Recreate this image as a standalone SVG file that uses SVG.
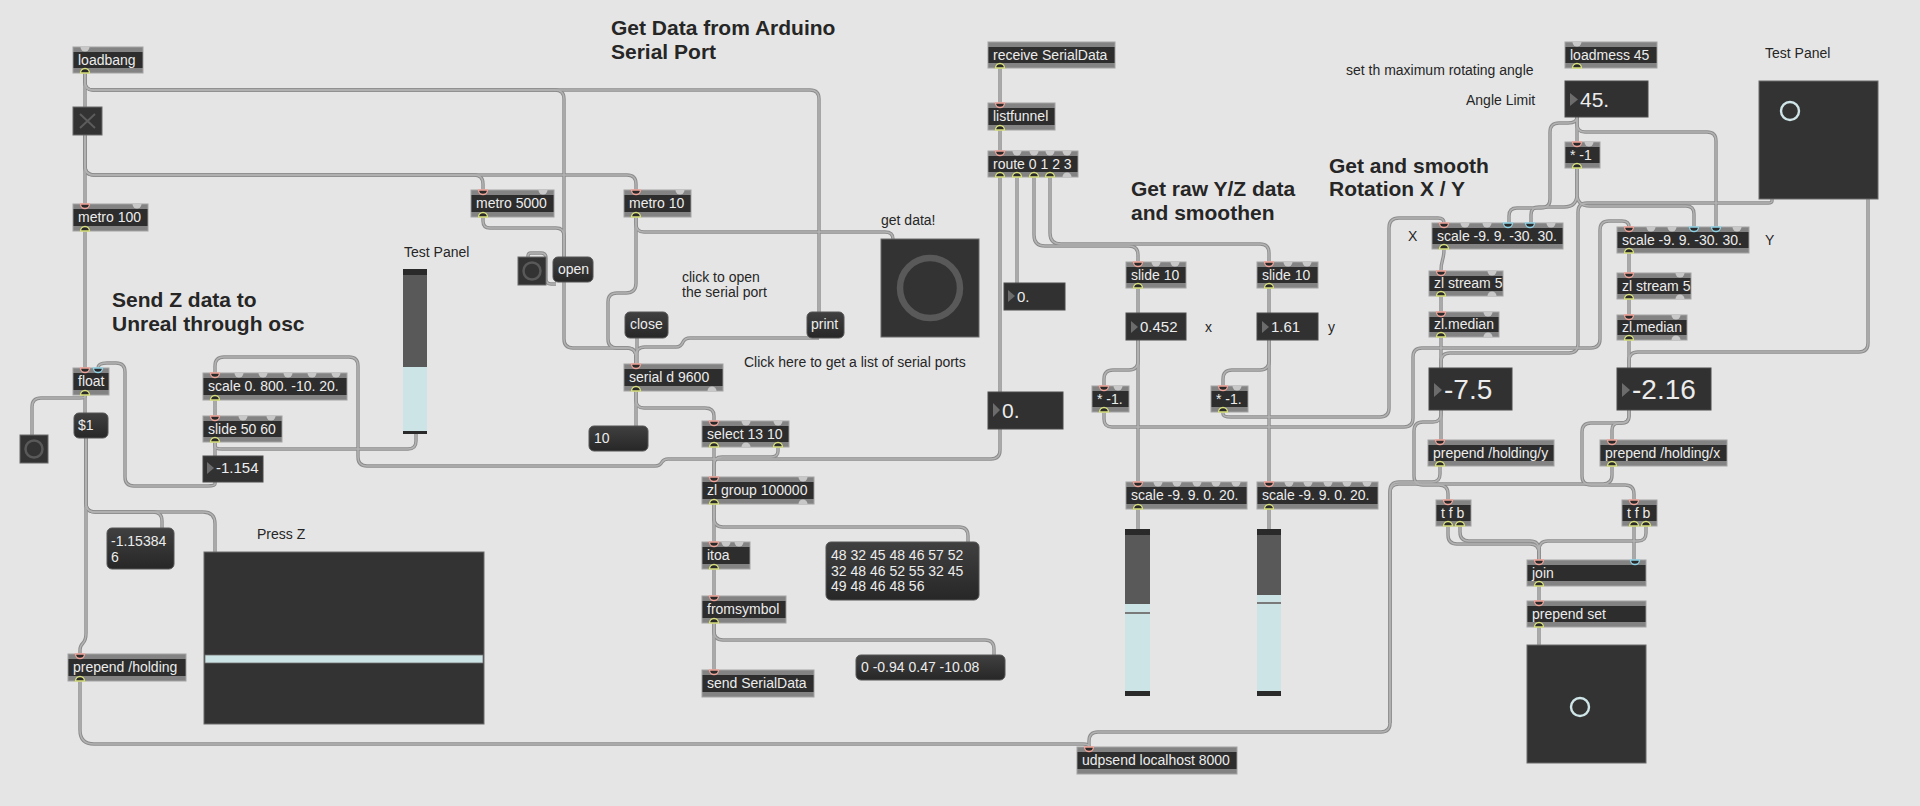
<svg xmlns="http://www.w3.org/2000/svg" xmlns:xlink="http://www.w3.org/1999/xlink" width="1920" height="806" viewBox="0 0 1920 806">
<style>
text{font-family:"Liberation Sans",Arial,Helvetica,sans-serif}
.t{font-size:14px;fill:#ececec}
.c{font-size:14px;fill:#262626}
.h{font-size:21px;font-weight:bold;fill:#262626}
.n15{font-size:15px}
.n21{font-size:21px}
.n28{font-size:28px}
.ob{fill:#838383;stroke:#a3a3a3;stroke-width:1}
.oi{fill:#2d2d2d}
.msg{fill:url(#mg);stroke:#555;stroke-width:1}
.num{fill:#313131;stroke:#4a4a4a;stroke-width:1}
.tri{fill:#6c6c6c}
.ui{fill:#333;stroke:#6a6a6a;stroke-width:1}
.ring{fill:none;stroke:#595959}
.pc{fill:none;stroke:#cfe5e8;stroke-width:2.4}
</style>
<defs>
<linearGradient id="mg" x1="0" y1="0" x2="0" y2="1"><stop offset="0" stop-color="#404040"/><stop offset="1" stop-color="#272727"/></linearGradient>
<path id="ii" d="M-4.5,0 A4.5,4.5 0 0 0 4.5,0 Z" fill="#2a2a2a" stroke="#f0a398" stroke-width="1.3"/>
<path id="ic" d="M-4.5,0 A4.5,4.5 0 0 0 4.5,0 Z" fill="#2a2a2a" stroke="#8fd3e6" stroke-width="1.3"/>
<path id="iu" d="M-4.5,0 A4.5,4.5 0 0 0 4.5,0 Z" fill="#c8c8c8"/>
<path id="oo" d="M-4.5,0 A4.5,4.5 0 0 1 4.5,0 Z" fill="#2a2a2a" stroke="#d8e07a" stroke-width="1.3"/>
<path id="ou" d="M-4.5,0 A4.5,4.5 0 0 1 4.5,0 Z" fill="#c8c8c8"/>
</defs>
<rect width="1920" height="806" fill="#e5e5e5"/>

<g id="connectors" fill="none">
<g stroke="#8c8c8c" stroke-width="3.4">
<g id="cordset">
<path d="M85 73 V107"/>
<path d="M85 135 V204"/>
<path d="M85 73 V82 Q85 90 93 90 H555 Q564 90 564 99 V257"/>
<path d="M85 73 V82 Q85 90 93 90 H810 Q819 90 819 99 V312"/>
<path d="M85 135 V166 Q85 175 94 175 H474 Q483 175 483 184 V190"/>
<path d="M85 135 V166 Q85 175 94 175 H627 Q636 175 636 184 V190"/>
<path d="M483 217 V221 Q483 228 490 228 H556 Q564 228 564 236 V257"/>
<path d="M636 217 V224 Q636 232 644 232 H885 Q893 232 893 239"/>
<path d="M636 217 V283 Q636 293 626 293 H617 Q608 293 608 302 V339 Q608 348 617 348 H627 Q636 348 636 357 V364"/>
<path d="M564 282 V339 Q564 348 573 348 H627 Q636 348 636 357 V364"/>
<path d="M637 338 V364"/>
<path d="M819 338 H690 Q685 338 683 342 Q681 347 676 347 H645 Q636 347 636 356 V364"/>
<path d="M636 391 V426"/>
<path d="M636 391 V400 Q636 408 644 408 H705 Q714 408 714 416 V421"/>
<path d="M714 447 V477"/>
<path d="M778 447 V451 Q778 457 771 457 H722 Q714 457 714 465 V477"/>
<path d="M714 504 V542"/>
<path d="M714 504 V518 Q714 527 723 527 H959 Q968 527 968 536 V542"/>
<path d="M714 569 V596"/>
<path d="M714 623 V670"/>
<path d="M714 623 V631 Q714 640 723 640 H985 Q994 640 994 649 V655"/>
<path d="M1000 68 V103"/>
<path d="M1000 130 V151"/>
<path d="M1000 177 V450 Q1000 459 991 459 H668 Q664 459 662 462 Q660 466 655 466 H367 Q358 466 358 457 V366 Q358 357 349 357 H224 Q215 357 215 366 V373"/>
<path d="M1017 177 V283"/>
<path d="M1034 177 V235 Q1034 246 1045 246 H1129 Q1138 246 1138 255 V262"/>
<path d="M1050 177 V233 Q1050 244 1061 244 H1260 Q1269 244 1269 253 V262"/>
<path d="M1138 288 V313"/>
<path d="M1138 340 V482"/>
<path d="M1138 340 V361 Q1138 370 1129 370 H1113 Q1104 370 1104 379 V386"/>
<path d="M1269 288 V313"/>
<path d="M1269 340 V482"/>
<path d="M1269 340 V361 Q1269 370 1260 370 H1232 Q1223 370 1223 379 V386"/>
<path d="M1138 509 V529"/>
<path d="M1269 509 V529"/>
<path d="M1223 412 V414 Q1223 417 1231 417 H1380 Q1389 417 1389 408 V228 Q1389 218 1399 218 H1438 Q1444 218 1444 223"/>
<path d="M1104 412 V419 Q1104 427 1112 427 H1404 Q1413 427 1413 418 V357 Q1413 348 1422 348 H1591 Q1600 348 1600 339 V230 Q1600 221 1609 221 H1622 Q1629 221 1629 227"/>
<path d="M1772 199 V201 Q1772 203 1768 203 H1587 Q1578 203 1578 212 V344 Q1578 353 1569 353 H1450 Q1441 353 1441 362 V368"/>
<path d="M1868 199 V343 Q1868 352 1859 352 H1638 Q1629 352 1629 361 V368"/>
<path d="M1577 117 V142"/>
<path d="M1577 117 Q1577 123 1568 123 H1559 Q1550 123 1550 132 V199 Q1550 208 1541 208 H1517 Q1509 208 1509 216 V223"/>
<path d="M1577 168 V194 Q1577 207 1564 207 H1539 Q1531 207 1531 215 V223"/>
<path d="M1577 168 V194 Q1577 206 1590 206 H1686 Q1694 206 1694 214 V227"/>
<path d="M1577 117 V124 Q1577 132 1585 132 H1707 Q1716 132 1716 141 V227"/>
<path d="M1444 249 C1444 261 1441 259 1441 271"/>
<path d="M1441 296 V312"/>
<path d="M1441 337 V368"/>
<path d="M1629 253 V273"/>
<path d="M1629 299 V315"/>
<path d="M1629 340 V368"/>
<path d="M1441 410 V440"/>
<path d="M1629 410 V416 Q1629 423 1622 423 H1619 Q1612 423 1612 430 V440"/>
<path d="M1629 410 V416 Q1629 423 1621 423 H1591 Q1582 423 1582 432 V476 Q1582 485 1591 485 H1625 Q1634 485 1634 494 V500"/>
<path d="M1441 410 V414 Q1441 422 1433 422 H1423 Q1414 422 1414 431 V476 Q1414 485 1423 485 H1439 Q1448 485 1448 494 V500"/>
<path d="M1440 466 V474 Q1440 482 1432 482 H1399 Q1390 482 1390 491 V723 Q1390 732 1381 732 H1098 Q1089 732 1089 741 V747"/>
<path d="M1612 466 V475 Q1612 484 1603 484 H1399 Q1390 484 1390 493 V723"/>
<path d="M80 681 V730 Q80 744 94 744 H1083 Q1089 744 1089 747"/>
<path d="M1448 526 V535 Q1448 544 1457 544 H1530 Q1539 544 1539 553 V560"/>
<path d="M1460 526 V532 Q1460 541 1469 541 H1530 Q1539 541 1539 550 V560"/>
<path d="M1634 526 V560"/>
<path d="M1646 526 V533 Q1646 541 1638 541 H1548 Q1539 541 1539 550 V560"/>
<path d="M1539 586 V601"/>
<path d="M1539 627 V645"/>
<path d="M85 231 V368"/>
<path d="M85 395 V413"/>
<path d="M85 395 V396 Q85 398 80 398 H41 Q32 398 32 407 V435"/>
<path d="M86 438 V633 Q86 640 83 643 Q80 646 80 650 V654"/>
<path d="M86 438 V503 Q86 512 95 512 H153 Q162 512 162 521 V528"/>
<path d="M86 438 V503 Q86 512 95 512 H203 Q215 512 215 524 V552"/>
<path d="M215 400 V416"/>
<path d="M215 442 V456"/>
<path d="M215 442 V446 Q215 449 222 449 H408 Q416 449 416 441 V434"/>
<path d="M215 482 V484 Q215 486 208 486 H134 Q125 486 125 477 V372 Q125 363 116 363 H107 Q98 363 98 368"/>
<path d="M528 257 V256 Q528 253 531 253 H541 Q546 253 546 258 V279 Q546 284 551 284 H556"/>
</g>
</g>
<use href="#cordset" stroke="#b3b3b3" stroke-width="1.5"/>
</g>

<g id="headings">
<text class="h" x="611" y="35">Get Data from Arduino</text>
<text class="h" x="611" y="59">Serial Port</text>
<text class="h" x="112" y="307">Send Z data to</text>
<text class="h" x="112" y="331">Unreal through osc</text>
<text class="h" x="1131" y="196">Get raw Y/Z data</text>
<text class="h" x="1131" y="220">and smoothen</text>
<text class="h" x="1329" y="173">Get and smooth</text>
<text class="h" x="1329" y="196">Rotation X / Y</text>
</g>

<g id="comments">
<text class="c" x="404" y="257">Test Panel</text>
<text class="c" x="1765" y="58">Test Panel</text>
<text class="c" x="881" y="225">get data!</text>
<text class="c" x="682" y="282">click to open</text>
<text class="c" x="682" y="297">the serial port</text>
<text class="c" x="744" y="367">Click here to get a list of serial ports</text>
<text class="c" x="257" y="539">Press Z</text>
<text class="c" x="1346" y="75">set th maximum rotating angle</text>
<text class="c" x="1466" y="105">Angle Limit</text>
<text class="c" x="1408" y="241">X</text>
<text class="c" x="1765" y="245">Y</text>
<text class="c" x="1205" y="332">x</text>
<text class="c" x="1328" y="332">y</text>
</g>

<!-- object boxes -->
<g id="n-loadbang"><rect class="ob" x="73" y="47" width="70" height="26"/><rect class="oi" x="73.5" y="52" width="69" height="16"/><text class="t" x="78" y="65">loadbang</text><use href="#iu" x="85" y="47"/><use href="#oo" x="85" y="73"/></g>
<g id="n-metro100"><rect class="ob" x="73" y="204" width="75" height="27"/><rect class="oi" x="73.5" y="209" width="74" height="17"/><text class="t" x="78" y="222">metro 100</text><use href="#ii" x="85" y="204"/><use href="#iu" x="137" y="204"/><use href="#oo" x="85" y="231"/></g>
<g id="n-metro5000"><rect class="ob" x="471" y="190" width="83" height="27"/><rect class="oi" x="471.5" y="195" width="82" height="17"/><text class="t" x="476" y="208">metro 5000</text><use href="#ii" x="483" y="190"/><use href="#iu" x="543" y="190"/><use href="#oo" x="483" y="217"/></g>
<g id="n-metro10"><rect class="ob" x="624" y="190" width="67" height="27"/><rect class="oi" x="624.5" y="195" width="66" height="17"/><text class="t" x="629" y="208">metro 10</text><use href="#ii" x="636" y="190"/><use href="#iu" x="680" y="190"/><use href="#oo" x="636" y="217"/></g>
<g id="n-serial"><rect class="ob" x="624" y="364" width="99" height="27"/><rect class="oi" x="624.5" y="369" width="98" height="17"/><text class="t" x="629" y="382">serial d 9600</text><use href="#ii" x="636" y="364"/><use href="#oo" x="636" y="391"/><use href="#ou" x="712" y="391"/></g>
<g id="n-select"><rect class="ob" x="702" y="421" width="87" height="26"/><rect class="oi" x="702.5" y="426" width="86" height="16"/><text class="t" x="707" y="439">select 13 10</text><use href="#ii" x="714" y="421"/><use href="#iu" x="746" y="421"/><use href="#iu" x="778" y="421"/><use href="#oo" x="714" y="447"/><use href="#ou" x="746" y="447"/><use href="#oo" x="778" y="447"/></g>
<g id="n-zlgroup"><rect class="ob" x="702" y="477" width="112" height="27"/><rect class="oi" x="702.5" y="482" width="111" height="17"/><text class="t" x="707" y="495">zl group 100000</text><use href="#ii" x="714" y="477"/><use href="#iu" x="803" y="477"/><use href="#oo" x="714" y="504"/><use href="#ou" x="803" y="504"/></g>
<g id="n-itoa"><rect class="ob" x="702" y="542" width="48" height="27"/><rect class="oi" x="702.5" y="547" width="47" height="17"/><text class="t" x="707" y="560">itoa</text><use href="#ii" x="714" y="542"/><use href="#iu" x="726" y="542"/><use href="#iu" x="739" y="542"/><use href="#oo" x="714" y="569"/></g>
<g id="n-fromsymbol"><rect class="ob" x="702" y="596" width="84" height="27"/><rect class="oi" x="702.5" y="601" width="83" height="17"/><text class="t" x="707" y="614">fromsymbol</text><use href="#ii" x="714" y="596"/><use href="#oo" x="714" y="623"/></g>
<g id="n-sendserial"><rect class="ob" x="702" y="670" width="112" height="27"/><rect class="oi" x="702.5" y="675" width="111" height="17"/><text class="t" x="707" y="688">send SerialData</text><use href="#ii" x="714" y="670"/></g>
<g id="n-receive"><rect class="ob" x="988" y="42" width="127" height="26"/><rect class="oi" x="988.5" y="47" width="126" height="16"/><text class="t" x="993" y="60">receive SerialData</text><use href="#oo" x="1000" y="68"/></g>
<g id="n-listfunnel"><rect class="ob" x="988" y="103" width="67" height="27"/><rect class="oi" x="988.5" y="108" width="66" height="17"/><text class="t" x="993" y="121">listfunnel</text><use href="#ii" x="1000" y="103"/><use href="#oo" x="1000" y="130"/></g>
<g id="n-route"><rect class="ob" x="988" y="151" width="90" height="26"/><rect class="oi" x="988.5" y="156" width="89" height="16"/><text class="t" x="993" y="169">route 0 1 2 3</text><use href="#ii" x="1000" y="151"/><use href="#iu" x="1017" y="151"/><use href="#iu" x="1034" y="151"/><use href="#iu" x="1050" y="151"/><use href="#iu" x="1067" y="151"/><use href="#oo" x="1000" y="177"/><use href="#oo" x="1017" y="177"/><use href="#oo" x="1034" y="177"/><use href="#oo" x="1050" y="177"/><use href="#ou" x="1067" y="177"/></g>
<g id="n-slidex"><rect class="ob" x="1126" y="262" width="60" height="26"/><rect class="oi" x="1126.5" y="267" width="59" height="16"/><text class="t" x="1131" y="280">slide 10</text><use href="#ii" x="1138" y="262"/><use href="#iu" x="1156" y="262"/><use href="#iu" x="1175" y="262"/><use href="#oo" x="1138" y="288"/></g>
<g id="n-slidey"><rect class="ob" x="1257" y="262" width="61" height="26"/><rect class="oi" x="1257.5" y="267" width="60" height="16"/><text class="t" x="1262" y="280">slide 10</text><use href="#ii" x="1269" y="262"/><use href="#iu" x="1288" y="262"/><use href="#iu" x="1307" y="262"/><use href="#oo" x="1269" y="288"/></g>
<g id="n-mulx"><rect class="ob" x="1092" y="386" width="37" height="26"/><rect class="oi" x="1092.5" y="391" width="36" height="16"/><text class="t" x="1097" y="404">* -1.</text><use href="#ii" x="1104" y="386"/><use href="#iu" x="1118" y="386"/><use href="#oo" x="1104" y="412"/></g>
<g id="n-muly"><rect class="ob" x="1211" y="386" width="37" height="26"/><rect class="oi" x="1211.5" y="391" width="36" height="16"/><text class="t" x="1216" y="404">* -1.</text><use href="#ii" x="1223" y="386"/><use href="#iu" x="1237" y="386"/><use href="#oo" x="1223" y="412"/></g>
<g id="n-scalex20"><rect class="ob" x="1126" y="482" width="121" height="27"/><rect class="oi" x="1126.5" y="487" width="120" height="17"/><text class="t" x="1131" y="500">scale -9. 9. 0. 20.</text><use href="#ii" x="1138" y="482"/><use href="#iu" x="1158" y="482"/><use href="#iu" x="1177" y="482"/><use href="#iu" x="1197" y="482"/><use href="#iu" x="1216" y="482"/><use href="#iu" x="1236" y="482"/><use href="#oo" x="1138" y="509"/></g>
<g id="n-scaley20"><rect class="ob" x="1257" y="482" width="121" height="27"/><rect class="oi" x="1257.5" y="487" width="120" height="17"/><text class="t" x="1262" y="500">scale -9. 9. 0. 20.</text><use href="#ii" x="1269" y="482"/><use href="#iu" x="1289" y="482"/><use href="#iu" x="1308" y="482"/><use href="#iu" x="1328" y="482"/><use href="#iu" x="1347" y="482"/><use href="#iu" x="1367" y="482"/><use href="#oo" x="1269" y="509"/></g>
<g id="n-udpsend"><rect class="ob" x="1077" y="747" width="160" height="27"/><rect class="oi" x="1077.5" y="752" width="159" height="17"/><text class="t" x="1082" y="765">udpsend localhost 8000</text><use href="#ii" x="1089" y="747"/></g>
<g id="n-loadmess"><rect class="ob" x="1565" y="42" width="92" height="26"/><rect class="oi" x="1565.5" y="47" width="91" height="16"/><text class="t" x="1570" y="60">loadmess 45</text><use href="#iu" x="1577" y="42"/><use href="#oo" x="1577" y="68"/></g>
<g id="n-neg1"><rect class="ob" x="1565" y="142" width="35" height="26"/><rect class="oi" x="1565.5" y="147" width="34" height="16"/><text class="t" x="1570" y="160">* -1</text><use href="#ii" x="1577" y="142"/><use href="#iu" x="1589" y="142"/><use href="#oo" x="1577" y="168"/></g>
<g id="n-scaleX"><rect class="ob" x="1432" y="223" width="131" height="26"/><rect class="oi" x="1432.5" y="228" width="130" height="16"/><text class="t" x="1437" y="241">scale -9. 9. -30. 30.</text><use href="#ii" x="1444" y="223"/><use href="#iu" x="1465" y="223"/><use href="#iu" x="1487" y="223"/><use href="#ic" x="1508" y="223"/><use href="#ic" x="1530" y="223"/><use href="#iu" x="1551" y="223"/><use href="#oo" x="1444" y="249"/></g>
<g id="n-scaleY"><rect class="ob" x="1617" y="227" width="132" height="26"/><rect class="oi" x="1617.5" y="232" width="131" height="16"/><text class="t" x="1622" y="245">scale -9. 9. -30. 30.</text><use href="#ii" x="1629" y="227"/><use href="#iu" x="1651" y="227"/><use href="#iu" x="1672" y="227"/><use href="#ic" x="1694" y="227"/><use href="#ic" x="1716" y="227"/><use href="#iu" x="1737" y="227"/><use href="#oo" x="1629" y="253"/></g>
<g id="n-zlstreamL"><rect class="ob" x="1429" y="271" width="74" height="25"/><rect class="oi" x="1429.5" y="276" width="73" height="15"/><text class="t" x="1434" y="288">zl stream 5</text><use href="#ii" x="1441" y="271"/><use href="#iu" x="1492" y="271"/><use href="#oo" x="1441" y="296"/><use href="#ou" x="1492" y="296"/></g>
<g id="n-zlmedianL"><rect class="ob" x="1429" y="312" width="70" height="25"/><rect class="oi" x="1429.5" y="317" width="69" height="15"/><text class="t" x="1434" y="329">zl.median</text><use href="#ii" x="1441" y="312"/><use href="#iu" x="1488" y="312"/><use href="#oo" x="1441" y="337"/><use href="#ou" x="1488" y="337"/></g>
<g id="n-zlstreamR"><rect class="ob" x="1617" y="273" width="74" height="26"/><rect class="oi" x="1617.5" y="278" width="73" height="16"/><text class="t" x="1622" y="291">zl stream 5</text><use href="#ii" x="1629" y="273"/><use href="#iu" x="1680" y="273"/><use href="#oo" x="1629" y="299"/><use href="#ou" x="1680" y="299"/></g>
<g id="n-zlmedianR"><rect class="ob" x="1617" y="315" width="70" height="25"/><rect class="oi" x="1617.5" y="320" width="69" height="15"/><text class="t" x="1622" y="332">zl.median</text><use href="#ii" x="1629" y="315"/><use href="#iu" x="1676" y="315"/><use href="#oo" x="1629" y="340"/><use href="#ou" x="1676" y="340"/></g>
<g id="n-prependy"><rect class="ob" x="1428" y="440" width="126" height="26"/><rect class="oi" x="1428.5" y="445" width="125" height="16"/><text class="t" x="1433" y="458">prepend /holding/y</text><use href="#ii" x="1440" y="440"/><use href="#oo" x="1440" y="466"/></g>
<g id="n-prependx"><rect class="ob" x="1600" y="440" width="127" height="26"/><rect class="oi" x="1600.5" y="445" width="126" height="16"/><text class="t" x="1605" y="458">prepend /holding/x</text><use href="#ii" x="1612" y="440"/><use href="#oo" x="1612" y="466"/></g>
<g id="n-tfbL"><rect class="ob" x="1436" y="500" width="35" height="26"/><rect class="oi" x="1436.5" y="505" width="34" height="16"/><text class="t" x="1441" y="518">t f b</text><use href="#ii" x="1448" y="500"/><use href="#oo" x="1448" y="526"/><use href="#oo" x="1460" y="526"/></g>
<g id="n-tfbR"><rect class="ob" x="1622" y="500" width="35" height="26"/><rect class="oi" x="1622.5" y="505" width="34" height="16"/><text class="t" x="1627" y="518">t f b</text><use href="#ii" x="1634" y="500"/><use href="#oo" x="1634" y="526"/><use href="#oo" x="1646" y="526"/></g>
<g id="n-join"><rect class="ob" x="1527" y="560" width="119" height="26"/><rect class="oi" x="1527.5" y="565" width="118" height="16"/><text class="t" x="1532" y="578">join</text><use href="#ii" x="1539" y="560"/><use href="#ic" x="1635" y="560"/><use href="#oo" x="1539" y="586"/></g>
<g id="n-prependset"><rect class="ob" x="1527" y="601" width="119" height="26"/><rect class="oi" x="1527.5" y="606" width="118" height="16"/><text class="t" x="1532" y="619">prepend set</text><use href="#ii" x="1539" y="601"/><use href="#oo" x="1539" y="627"/></g>
<g id="n-float"><rect class="ob" x="73" y="368" width="36" height="27"/><rect class="oi" x="73.5" y="373" width="35" height="17"/><text class="t" x="78" y="386">float</text><use href="#ii" x="85" y="368"/><use href="#ic" x="98" y="368"/><use href="#oo" x="85" y="395"/></g>
<g id="n-scale800"><rect class="ob" x="203" y="373" width="144" height="27"/><rect class="oi" x="203.5" y="378" width="143" height="17"/><text class="t" x="208" y="391">scale 0. 800. -10. 20.</text><use href="#ii" x="215" y="373"/><use href="#iu" x="239" y="373"/><use href="#iu" x="263" y="373"/><use href="#iu" x="288" y="373"/><use href="#iu" x="312" y="373"/><use href="#iu" x="336" y="373"/><use href="#oo" x="215" y="400"/></g>
<g id="n-slide5060"><rect class="ob" x="203" y="416" width="79" height="26"/><rect class="oi" x="203.5" y="421" width="78" height="16"/><text class="t" x="208" y="434">slide 50 60</text><use href="#ii" x="215" y="416"/><use href="#iu" x="243" y="416"/><use href="#iu" x="271" y="416"/><use href="#oo" x="215" y="442"/></g>
<g id="n-prependholding"><rect class="ob" x="68" y="654" width="118" height="27"/><rect class="oi" x="68.5" y="659" width="117" height="17"/><text class="t" x="73" y="672">prepend /holding</text><use href="#ii" x="80" y="654"/><use href="#oo" x="80" y="681"/></g>

<!-- number boxes -->
<g id="n-num45"><rect class="num" x="1565" y="81" width="83" height="36"/><path class="tri" d="M1570 93 L1578 99.5 L1570 106 Z"/><text class="t n21" x="1580" y="107">45.</text></g>
<g id="n-num75"><rect class="num" x="1429" y="368" width="83" height="42"/><path class="tri" d="M1434 383 L1442 390 L1434 397 Z"/><text class="t n28" x="1444" y="399">-7.5</text></g>
<g id="n-num216"><rect class="num" x="1617" y="368" width="94" height="42"/><path class="tri" d="M1622 383 L1630 390 L1622 397 Z"/><text class="t n28" x="1632" y="399">-2.16</text></g>
<g id="n-num0s"><rect class="num" x="1004" y="283" width="61" height="27"/><path class="tri" d="M1008 290 L1015 296 L1008 302 Z"/><text class="t n15" x="1017" y="302">0.</text></g>
<g id="n-num0b"><rect class="num" x="988" y="392" width="75" height="37"/><path class="tri" d="M993 403 L1000 410 L993 417 Z"/><text class="t n21" x="1002" y="418">0.</text></g>
<g id="n-num0452"><rect class="num" x="1126" y="313" width="60" height="27"/><path class="tri" d="M1131 321 L1138 327 L1131 333 Z"/><text class="t n15" x="1140" y="332">0.452</text></g>
<g id="n-num161"><rect class="num" x="1257" y="313" width="61" height="27"/><path class="tri" d="M1262 321 L1269 327 L1262 333 Z"/><text class="t n15" x="1271" y="332">1.61</text></g>
<g id="n-num1154"><rect class="num" x="203" y="456" width="60" height="26"/><path class="tri" d="M207 462 L214 468 L207 474 Z"/><text class="t n15" x="216" y="473">-1.154</text></g>

<!-- message boxes -->
<g id="n-open"><rect class="msg" x="553" y="257" width="40" height="25" rx="5"/><text class="t" x="558" y="274">open</text></g>
<g id="n-close"><rect class="msg" x="625" y="312" width="43" height="26" rx="5"/><text class="t" x="630" y="329">close</text></g>
<g id="n-print"><rect class="msg" x="807" y="312" width="37" height="26" rx="5"/><text class="t" x="811" y="329">print</text></g>
<g id="n-msg10"><rect class="msg" x="589" y="426" width="59" height="25" rx="5"/><text class="t" x="594" y="443">10</text></g>
<g id="n-dollar1"><rect class="msg" x="74" y="413" width="34" height="25" rx="5"/><text class="t" x="78" y="430">$1</text></g>
<g id="n-msgz"><rect class="msg" x="107" y="528" width="67" height="41" rx="5"/><text class="t" x="111" y="546">-1.15384</text><text class="t" x="111" y="562">6</text></g>
<g id="n-msgbytes"><rect class="msg" x="826" y="542" width="153" height="58" rx="5"/><text class="t" x="831" y="560">48 32 45 48 46 57 52</text><text class="t" x="831" y="576">32 48 46 52 55 32 45</text><text class="t" x="831" y="591">49 48 46 48 56</text></g>
<g id="n-msgvals"><rect class="msg" x="856" y="655" width="149" height="25" rx="5"/><text class="t" x="861" y="672">0 -0.94 0.47 -10.08</text></g>

<!-- UI objects -->
<g id="n-toggle"><rect class="ui" x="73" y="107" width="29" height="28"/><path d="M80 114 L95 128 M95 114 L80 128" stroke="#5c5c5c" stroke-width="2"/></g>
<g id="n-btnget"><rect class="ui" x="881" y="239" width="98" height="98"/><circle class="ring" cx="930" cy="288" r="30" stroke-width="6.5"/></g>
<g id="n-btnopen"><rect class="ui" x="518" y="257" width="28" height="28"/><circle class="ring" cx="532" cy="271" r="8.5" stroke-width="2.5"/></g>
<g id="n-btnleft"><rect class="ui" x="20" y="435" width="28" height="28"/><circle class="ring" cx="34" cy="449" r="8.5" stroke-width="2.5"/></g>
<g id="n-vslider"><rect x="403" y="269" width="24" height="165" fill="#cde4e7"/><rect x="403" y="269" width="24" height="6" fill="#2a2a2a"/><rect x="403" y="275" width="24" height="92" fill="#595959"/><rect x="403" y="431" width="24" height="3" fill="#2a2a2a"/></g>
<g id="n-sliderx"><rect x="1125" y="529" width="25" height="167" fill="#cde4e7"/><rect x="1125" y="529" width="25" height="6" fill="#2a2a2a"/><rect x="1125" y="535" width="25" height="69" fill="#595959"/><rect x="1125" y="612" width="25" height="2" fill="#7a7a7a"/><rect x="1125" y="691" width="25" height="5" fill="#2a2a2a"/></g>
<g id="n-slidery"><rect x="1257" y="529" width="24" height="167" fill="#cde4e7"/><rect x="1257" y="529" width="24" height="6" fill="#2a2a2a"/><rect x="1257" y="535" width="24" height="60" fill="#595959"/><rect x="1257" y="602" width="24" height="2" fill="#7a7a7a"/><rect x="1257" y="691" width="24" height="5" fill="#2a2a2a"/></g>
<g id="n-hslider"><rect class="ui" x="204" y="552" width="280" height="172"/><rect x="205" y="655" width="278" height="8" fill="#cde4e7" stroke="#6f6f6f" stroke-width="0.8"/></g>
<g id="n-testpanel"><rect class="ui" x="1759" y="81" width="119" height="118"/><circle class="pc" cx="1790" cy="111" r="9"/></g>
<g id="n-pictslider"><rect class="ui" x="1527" y="645" width="119" height="118"/><circle class="pc" cx="1580" cy="707" r="9"/></g>
</svg>
